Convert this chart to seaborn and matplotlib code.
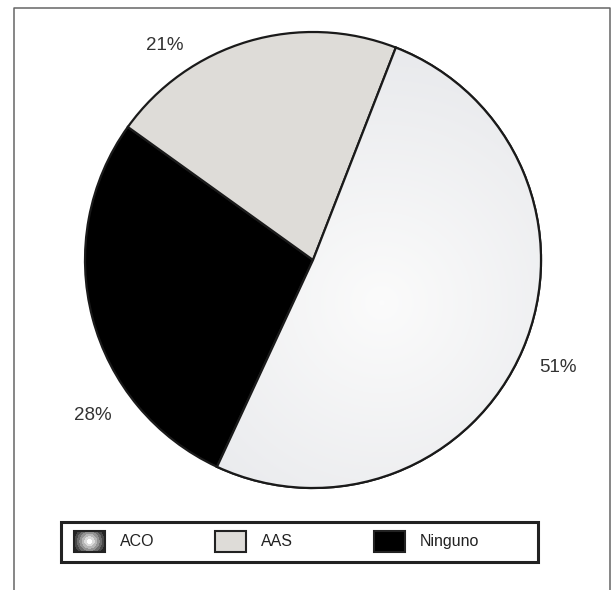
import numpy as np
import matplotlib
matplotlib.use("Agg")
import matplotlib.pyplot as plt
import seaborn as sns
from matplotlib.patches import Rectangle, PathPatch
from matplotlib.lines import Line2D

# ---- data ----
categories = ["ACO", "AAS", "Ninguno"]
shares = [51, 21, 28]
pct_labels = ["51%", "21%", "28%"]
# drawing order around the pie (clockwise from the start angle)
pie_order = ["ACO", "Ninguno", "AAS"]

sns.set_theme(style="white")
plt.rcParams["font.family"] = ["Liberation Sans", "DejaVu Sans"]

W, H = 612, 590
fig = plt.figure(figsize=(W / 100, H / 100), dpi=100)
ax = fig.add_axes([0, 0, 1, 1])

colors = {"ACO": "#eeeff1", "AAS": "#dedcd8", "Ninguno": "#000000"}
vals = [shares[categories.index(c)] for c in pie_order]
cx, cy, R = 313, H - 260, 228
wedges, _ = ax.pie(vals, colors=[colors[c] for c in pie_order], startangle=68.7,
                   counterclock=False, center=(cx, cy), radius=R, frame=False,
                   wedgeprops=dict(edgecolor="#1a1a1a", linewidth=1.6))
ax.set_xlim(0, W)
ax.set_ylim(0, H)
ax.set_aspect("equal")
ax.axis("off")

# radial gradient fill for ACO wedge
aco_wedge = wedges[pie_order.index("ACO")]
gx, gy = 382, H - 303
xs = np.linspace(cx - R, cx + R, 400)
ys = np.linspace(cy - R, cy + R, 400)
X, Y = np.meshgrid(xs, ys)
D = np.sqrt((X - gx) ** 2 + (Y - gy) ** 2) / 300.0
D = np.clip(D, 0, 1)
c0 = np.array([0.985, 0.985, 0.985])
c1 = np.array([0.90, 0.905, 0.918])
img = c0[None, None, :] * (1 - D[..., None]) + c1[None, None, :] * D[..., None]
im = ax.imshow(img, extent=(cx - R, cx + R, cy - R, cy + R), origin="lower",
               zorder=aco_wedge.get_zorder() + 0.1, interpolation="bilinear")
im.set_clip_path(aco_wedge)
# redraw outline on top
ax.add_patch(PathPatch(aco_wedge.get_path(), fill=False, edgecolor="#1a1a1a",
                       linewidth=1.6, zorder=5, transform=aco_wedge.get_transform()))

# percentage labels
label_pos = {"ACO": (558, 368), "AAS": (165, 45), "Ninguno": (93, 415)}
for c, t in zip(categories, pct_labels):
    x, y = label_pos[c]
    ax.text(x, H - y, t, ha="center", va="center", fontsize=13.5, color="#333333")

# outer frame (left, top, right)
ax.add_line(Line2D([14, 14, 610, 610], [0, H - 8, H - 8, 0], color="#666666", lw=1.1))

# legend box
ax.add_patch(Rectangle((61, H - 562), 477, 40, fill=False, edgecolor="#222222", lw=2.2, zorder=6))
leg_items = [("ACO", 74, 120), ("AAS", 215, 261), ("Ninguno", 374, 420)]
for name, px, tx in leg_items:
    if name == "ACO":
        sx = np.linspace(-1, 1, 60)
        sy = np.linspace(-0.7, 0.7, 42)
        SX, SY = np.meshgrid(sx, sy)
        r = np.sqrt(SX ** 2 + SY ** 2)
        levels = np.clip(np.floor(r * 6) / 6, 0, 1)
        g = 1.0 - 0.85 * levels
        ax.imshow(g, cmap="gray", vmin=0, vmax=1, extent=(px, px + 31, H - 552, H - 531),
                  zorder=7, interpolation="nearest")
        ax.add_patch(Rectangle((px, H - 552), 31, 21, fill=False, edgecolor="#222222", lw=1.5, zorder=8))
    else:
        ax.add_patch(Rectangle((px, H - 552), 31, 21, facecolor=colors[name],
                               edgecolor="#222222", lw=1.5, zorder=7))
    ax.text(tx, H - 541.5, name, ha="left", va="center", fontsize=11.5, color="#222222")

ax.set_xlim(0, W)
ax.set_ylim(0, H)
fig.savefig("out.png", dpi=100)
